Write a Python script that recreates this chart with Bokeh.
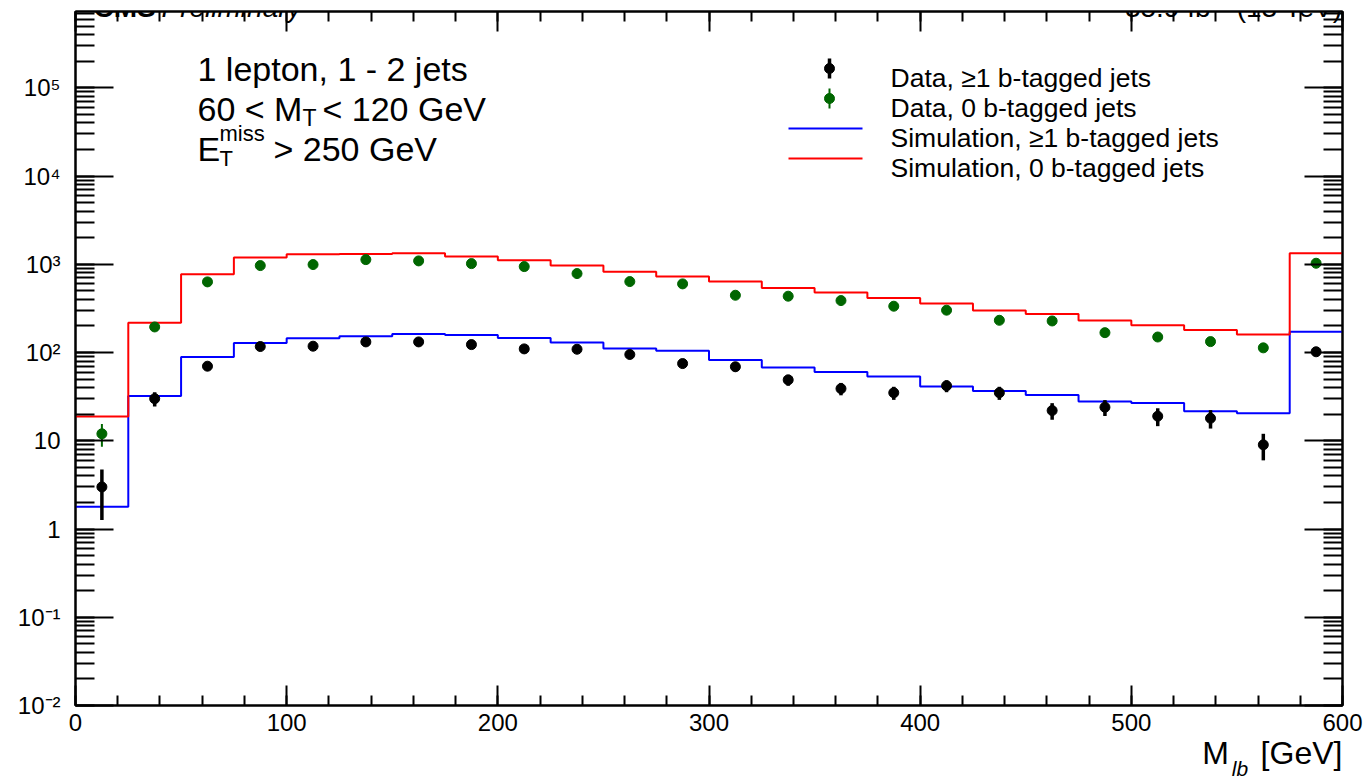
import numpy as np
from bokeh.plotting import figure
from bokeh.models import (Range1d, LinearAxis, LogAxis, LogTicker, SingleIntervalTicker, FixedTicker,
                          CustomJSTickFormatter, Label)
from bokeh.embed import file_html
from bokeh.resources import INLINE

# ---------------- data ----------------
bin_edges = list(range(0, 625, 25))          # M_lb bins [GeV], last bin incl. overflow
data_btag = [3, 30, 70, 117, 118, 132, 132, 123, 110, 109, 95, 75,
             69, 49, 39, 35, 42, 35, 22, 24, 19, 18, 9, 102]
data_0b = [12, 195, 632, 967, 993, 1130, 1093, 1018, 942, 785, 637, 600,
           446, 435, 388, 335, 302, 232, 228, 168, 150, 133, 113, 1028]
sim_btag = [1.79, 32.2, 89, 128, 145, 153, 162, 158, 146, 130, 111, 105,
            82.5, 67.5, 60.3, 53.5, 41.1, 36.7, 33.0, 27.8, 26.8, 21.6, 20.5, 172]
sim_0b = [18.8, 218, 773, 1191, 1301, 1312, 1336, 1222, 1113, 967, 826, 726,
          637, 540, 478, 416, 359, 299, 274, 230, 204, 180, 160, 1336]
y_tick_labels = {-2: "10⁻²", -1: "10⁻¹", 0: "1", 1: "10", 2: "10²",
                 3: "10³", 4: "10⁴", 5: "10⁵"}
legend_labels = ["Data, ≥1 b-tagged jets", "Data, 0 b-tagged jets",
                 "Simulation, ≥1 b-tagged jets", "Simulation, 0 b-tagged jets"]

# ---------------- geometry ----------------
W, H = 1369, 782
FL, FR, FT, FB = 75, 1342, 11, 705          # frame edges in picture pixels
FW, FH = FR - FL, FB - FT
XMIN, XMAX = 0, 600
YMIN = 0.01
LOGSPAN = FH / 88.24
YMAX = 10 ** (-2 + LOGSPAN)
FONT = "Liberation Sans"
GREEN = "#006600"


def xd(rx):  # picture pixel -> data x
    return XMIN + (rx - FL) * (XMAX - XMIN) / FW


def yd(ry):  # picture pixel -> data y (log)
    return 10 ** (-2 + (FB - ry) * LOGSPAN / FH)


p = figure(width=W, height=H, y_axis_type="log",
           x_range=Range1d(XMIN, XMAX), y_range=Range1d(YMIN, YMAX),
           output_backend="svg", toolbar_location=None,
           min_border_left=FL, min_border_right=W - FR, min_border_top=FT, min_border_bottom=H - FB)
p.grid.visible = False
p.background_fill_color = "white"
p.border_fill_color = "white"
p.outline_line_color = "black"
p.outline_line_width = 2

bottom = p.below[0]
left = p.left[0]
bottom.ticker = SingleIntervalTicker(interval=100, num_minor_ticks=5)
left.ticker = LogTicker(num_minor_ticks=10)
left.formatter = CustomJSTickFormatter(args=dict(m={str(k): v for k, v in y_tick_labels.items()}), code="""
    const e = Math.round(Math.log10(tick));
    return (m[String(e)] !== undefined) ? m[String(e)] : "";
""")

top = LinearAxis(ticker=SingleIntervalTicker(interval=100, num_minor_ticks=5),
                 formatter=CustomJSTickFormatter(code="return '';"))
right = LogAxis(ticker=LogTicker(num_minor_ticks=10),
                formatter=CustomJSTickFormatter(code="return '';"))
p.add_layout(top, "above")
p.add_layout(right, "right")

for ax in [bottom, top]:
    ax.major_tick_in = 20
    ax.minor_tick_in = 10
for ax in [left, right]:
    ax.major_tick_in = 38
    ax.minor_tick_in = 19
for ax in [bottom, top, left, right]:
    ax.major_tick_out = 0
    ax.minor_tick_out = 0
    ax.axis_line_width = 2
    ax.major_tick_line_width = 2
    ax.minor_tick_line_width = 2
    ax.axis_line_color = "black"
    ax.major_tick_line_color = "black"
    ax.minor_tick_line_color = "black"
    ax.major_label_text_font = FONT
    ax.major_label_text_font_size = "24px"
    ax.major_label_text_color = "black"
for ax in [top, right]:
    ax.major_label_text_font_size = "0px"
    ax.major_label_standoff = 0
bottom.major_label_standoff = 8
left.major_label_standoff = 15

# ---------------- x-axis title  M_lb [GeV] (carried by two label-only axes) ----------------
x_m, x_gev, x_lb = xd(1215), xd(1301), xd(1239.5)
title_main = LinearAxis(ticker=FixedTicker(ticks=[x_m, x_gev], minor_ticks=[]),
                        formatter=CustomJSTickFormatter(args=dict(a=x_m), code="""
                            return Math.abs(tick - a) < 1e-6 ? "M" : "[GeV]";"""))
title_sub = LinearAxis(ticker=FixedTicker(ticks=[x_lb], minor_ticks=[]),
                       formatter=CustomJSTickFormatter(code="return 'lb';"))
for ax, fs, so, st in [(title_main, "32px", 1, "normal"), (title_sub, "21px", -17, "italic")]:
    ax.axis_line_color = None
    ax.major_tick_line_color = None
    ax.minor_tick_line_color = None
    ax.major_tick_out = 0
    ax.major_tick_in = 0
    ax.minor_tick_out = 0
    ax.minor_tick_in = 0
    ax.major_label_text_font = FONT
    ax.major_label_text_font_size = fs
    ax.major_label_text_font_style = st
    ax.major_label_text_color = "black"
    ax.major_label_standoff = so
p.add_layout(title_main, "below")
p.add_layout(title_sub, "below")

# ---------------- histograms (step lines) ----------------
p.step(x=bin_edges, y=sim_btag + [sim_btag[-1]], mode="after", line_color="#0000ff", line_width=2)
p.step(x=bin_edges, y=sim_0b + [sim_0b[-1]], mode="after", line_color="#ff0000", line_width=2)

centers = [(a + b) / 2 for a, b in zip(bin_edges[:-1], bin_edges[1:])]
db = np.array(data_btag, dtype=float)
d0 = np.array(data_0b, dtype=float)
p.segment(x0=centers, y0=d0 - np.sqrt(d0), x1=centers, y1=d0 + np.sqrt(d0),
          line_color=GREEN, line_width=2)
p.scatter(x=centers, y=data_0b, size=10, marker="circle", fill_color=GREEN, line_color=GREEN)
p.segment(x0=centers, y0=db - np.sqrt(db), x1=centers, y1=db + np.sqrt(db),
          line_color="black", line_width=3.5)
p.scatter(x=centers, y=data_btag, size=10, marker="circle", fill_color="black", line_color="black")

# ---------------- legend (drawn manually, ROOT style) ----------------
rows = [68, 98, 128, 158]
mx = xd(829)
p.segment(x0=[mx], y0=[yd(58)], x1=[mx], y1=[yd(78)], line_color="black", line_width=3.5)
p.scatter(x=[mx], y=[yd(68)], size=10, fill_color="black", line_color="black")
p.segment(x0=[mx], y0=[yd(88)], x1=[mx], y1=[yd(108)], line_color=GREEN, line_width=2)
p.scatter(x=[mx], y=[yd(98)], size=10, fill_color=GREEN, line_color=GREEN)
p.line(x=[xd(788), xd(862)], y=[yd(128), yd(128)], line_color="#0000ff", line_width=2)
p.line(x=[xd(788), xd(862)], y=[yd(158), yd(158)], line_color="#ff0000", line_width=2)
for r, t in zip(rows, legend_labels):
    p.add_layout(Label(x=xd(890), y=yd(r + 9), text=t, text_font=FONT, text_font_size="26.5px",
                       text_color="black", text_baseline="alphabetic"))


def lab(rx, ry, t, size, align="left", style="normal"):
    p.add_layout(Label(x=xd(rx), y=yd(ry), text=t, text_font=FONT, text_font_size=f"{size}px",
                       text_color="black", text_baseline="alphabetic", text_align=align,
                       text_font_style=style))


# ---------------- annotation texts ----------------
lab(197, 68, "1 lepton, 1 - 2 jets", 34)
lab(197, 108, "60 < M", 34)
lab(302, 117, "T", 23)
lab(322, 108, "< 120 GeV", 34)
lab(197, 148, "E", 34)
lab(219, 133, "miss", 22)
lab(219, 158, "T", 22)
lab(273, 148, "> 250 GeV", 34)

# header (cut at the top edge, as in the reference)
lab(93, 7, "CMS", 28, style="bold")
lab(161, 7, "Preliminary", 28, style="italic")
lab(1342, 7, "35.9 fb⁻¹ (13 TeV)", 28, align="right")

open("out.html", "w").write(file_html(p, INLINE))
